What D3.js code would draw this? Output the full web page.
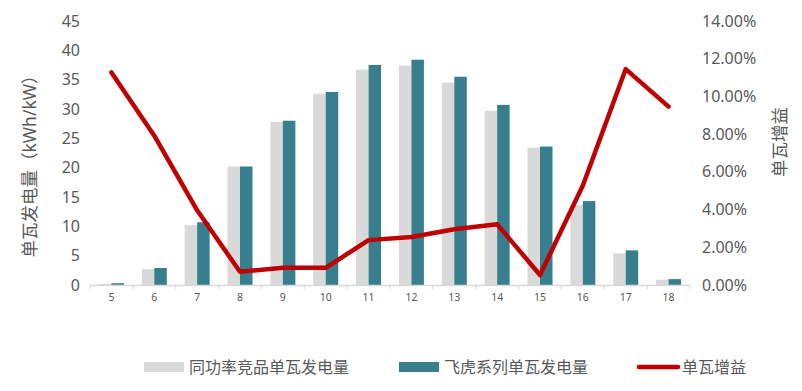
<!DOCTYPE html>
<html>
<head>
<meta charset="utf-8">
<script src="https://cdn.jsdelivr.net/npm/d3@7"></script>
<style>
  body { margin: 0; background: #fff; }
  svg text { font-family: "Noto Sans", "Noto Sans CJK SC", sans-serif; fill: #595959; }
</style>
</head>
<body>
<div id="chart"></div>
<script>
// donnees
var hours = ['5','6','7','8','9','10','11','12','13','14','15','16','17','18'];
var competitorYield = [0.2, 2.7, 10.2, 20.2, 27.8, 32.6, 36.7, 37.4, 34.5, 29.7, 23.4, 13.6, 5.4, 0.9];
var feihuYield = [0.3, 2.9, 10.7, 20.2, 28.0, 32.9, 37.5, 38.4, 35.5, 30.7, 23.6, 14.3, 5.9, 1.0];
var gain = [0.1127, 0.0792, 0.0396, 0.0070, 0.0091, 0.0091, 0.0238, 0.0255, 0.0296, 0.0322, 0.0053, 0.0528, 0.1145, 0.0946];
var leftTicks = [0, 5, 10, 15, 20, 25, 30, 35, 40, 45];
var rightTicks = [0, 0.02, 0.04, 0.06, 0.08, 0.10, 0.12, 0.14];
var legendLabels = ['同功率竞品单瓦发电量', '飞虎系列单瓦发电量', '单瓦增益'];

var colors = {grey: '#d9d9d9', teal: '#377f8f', red: '#c00000'};

var W = 802, H = 391;
var margin = {top: 21, right: 112, bottom: 106, left: 90};
var width = W - margin.left - margin.right;
var height = H - margin.top - margin.bottom;

var svg = d3.select('#chart').append('svg')
  .attr('width', W)
  .attr('height', H);

var g = svg.append('g')
  .attr('transform', 'translate(' + margin.left + ',' + margin.top + ')');

var x = d3.scaleBand().domain(hours).range([0, width]);
var yL = d3.scaleLinear().domain([0, 45]).range([height, 0]);
var yR = d3.scaleLinear().domain([0, 0.14]).range([height, 0]);

var barW = 12.5;

// barres concurrent
g.selectAll('rect.comp').data(competitorYield).enter().append('rect')
  .attr('class', 'comp')
  .attr('x', function(d, i){ return x(hours[i]) + x.bandwidth()/2 - barW; })
  .attr('y', function(d){ return yL(d); })
  .attr('width', barW)
  .attr('height', function(d){ return height - yL(d); })
  .attr('fill', colors.grey);

// barres feihu
g.selectAll('rect.feihu').data(feihuYield).enter().append('rect')
  .attr('class', 'feihu')
  .attr('x', function(d, i){ return x(hours[i]) + x.bandwidth()/2; })
  .attr('y', function(d){ return yL(d); })
  .attr('width', barW)
  .attr('height', function(d){ return height - yL(d); })
  .attr('fill', colors.teal);

// axe x
var xAxis = g.append('g').attr('transform', 'translate(0,' + height + ')');
xAxis.append('line')
  .attr('x1', 0).attr('x2', width).attr('y1', 0.5).attr('y2', 0.5)
  .attr('stroke', colors.grey).attr('stroke-width', 1.6);
xAxis.selectAll('line.tick').data(d3.range(hours.length + 1)).enter().append('line')
  .attr('class', 'tick')
  .attr('x1', function(i){ return i * x.bandwidth(); })
  .attr('x2', function(i){ return i * x.bandwidth(); })
  .attr('y1', 0.5).attr('y2', 4.5)
  .attr('stroke', colors.grey).attr('stroke-width', 1.2);
xAxis.selectAll('text').data(hours).enter().append('text')
  .attr('x', function(d){ return x(d) + x.bandwidth()/2; })
  .attr('y', 12)
  .attr('dy', '0.35em')
  .attr('text-anchor', 'middle')
  .style('font-size', '10.5px')
  .text(function(d){ return d; });

// axe gauche
g.selectAll('text.yl').data(leftTicks).enter().append('text')
  .attr('class', 'yl')
  .attr('x', -10)
  .attr('y', function(d){ return yL(d); })
  .attr('dy', '0.35em')
  .attr('text-anchor', 'end')
  .style('font-size', '16px')
  .text(function(d){ return d; });

// axe droit
var fmt = d3.format('.2%');
g.selectAll('text.yr').data(rightTicks).enter().append('text')
  .attr('class', 'yr')
  .attr('x', width + 12)
  .attr('y', function(d){ return yR(d); })
  .attr('dy', '0.35em')
  .attr('text-anchor', 'start')
  .style('font-size', '16px')
  .text(function(d){ return fmt(d); });

// ligne gain
var line = d3.line()
  .x(function(d, i){ return x(hours[i]) + x.bandwidth()/2; })
  .y(function(d){ return yR(d); });
g.append('path').datum(gain)
  .attr('d', line)
  .attr('fill', 'none')
  .attr('stroke', colors.red)
  .attr('stroke-width', 4.5)
  .attr('stroke-linejoin', 'round')
  .attr('stroke-linecap', 'round');

// titres des axes
svg.append('text')
  .attr('transform', 'translate(30,162) rotate(-90)')
  .attr('text-anchor', 'middle')
  .attr('dy', '0.35em')
  .style('font-size', '17.5px')
  .text('单瓦发电量（kWh/kW）');
svg.append('text')
  .attr('transform', 'translate(780,142) rotate(-90)')
  .attr('text-anchor', 'middle')
  .attr('dy', '0.35em')
  .style('font-size', '17.5px')
  .text('单瓦增益');

// legende
var legend = svg.append('g').attr('transform', 'translate(0,367)');
var items = [
  {x: 144, label: legendLabels[0], type: 'rect', color: colors.grey},
  {x: 399, label: legendLabels[1], type: 'rect', color: colors.teal},
  {x: 637, label: legendLabels[2], type: 'line', color: colors.red}
];
items.forEach(function(it){
  if (it.type === 'rect') {
    legend.append('rect').attr('x', it.x).attr('y', -5).attr('width', 40).attr('height', 10).attr('fill', it.color);
  } else {
    legend.append('line').attr('x1', it.x + 2).attr('x2', it.x + 41).attr('y1', 0).attr('y2', 0)
      .attr('stroke', it.color).attr('stroke-width', 4.5).attr('stroke-linecap', 'round');
  }
  legend.append('text')
    .attr('x', it.x + 45)
    .attr('y', 0)
    .attr('dy', '0.35em')
    .style('font-size', '16px')
    .text(it.label);
});
</script>
</body>
</html>
